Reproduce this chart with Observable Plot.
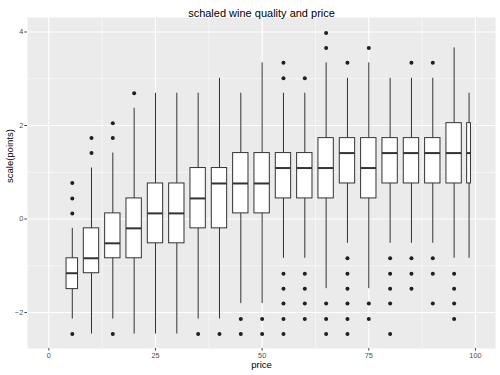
<!DOCTYPE html>
<html>
<head>
<meta charset="utf-8">
<script src="https://cdn.jsdelivr.net/npm/d3@7"></script>
<script src="https://cdn.jsdelivr.net/npm/@observablehq/plot@0.6"></script>
<style>
  html, body { margin: 0; padding: 0; background: #ffffff; }
</style>
</head>
<body>
<div id="chart"></div>
<script>
// ---- Data (y values are scale(points)) ----
const title = "schaled wine quality and price";
const xLabel = "price";
const yLabel = "scale(points)";

// price groups (cut_width 5): lowest and highest price present in each group
const priceMin = [4, 8, 13, 18, 23, 28, 33, 38, 43, 48, 53, 58, 63, 68, 73, 78, 83, 88, 93, 98];
const priceMax = [7, 12, 17, 22, 27, 32, 37, 42, 47, 52, 57, 62, 67, 72, 77, 82, 87, 92, 97, 99];

const whiskerLow  = [-2.14, -2.46, -2.14, -2.46, -2.46, -2.46, -2.14, -2.14, -1.81, -1.81, -0.84, -0.84, -1.49, -0.52, -1.49, -0.52, -0.52, -0.52, -0.84, -0.84];
const quartile1   = [-1.50, -1.16, -0.84, -0.84, -0.52, -0.52, -0.20, -0.20, 0.12, 0.12, 0.44, 0.44, 0.44, 0.76, 0.44, 0.76, 0.76, 0.76, 0.76, 0.76];
const medians     = [-1.16, -0.84, -0.52, -0.20, 0.12, 0.12, 0.44, 0.76, 0.76, 0.76, 1.09, 1.09, 1.09, 1.41, 1.09, 1.41, 1.41, 1.41, 1.41, 1.41];
const quartile3   = [-0.84, -0.20, 0.12, 0.44, 0.76, 0.76, 1.09, 1.09, 1.41, 1.41, 1.41, 1.41, 1.73, 1.73, 1.73, 1.73, 1.73, 1.73, 2.05, 2.05];
const whiskerHigh = [-0.20, 1.09, 1.41, 2.37, 2.69, 2.69, 2.69, 3.01, 2.69, 3.34, 2.69, 2.69, 3.34, 3.01, 3.34, 3.01, 3.01, 3.01, 3.66, 2.69];

// outliers: group index and value
const outlierGroup = [
  0, 0, 0, 0,
  1, 1,
  2, 2, 2,
  3,
  6, 7,
  8, 8,
  9, 9,
  10, 10, 10, 10, 10, 10, 10,
  11, 11, 11, 11, 11,
  12, 12, 12, 12, 12,
  13, 13, 13, 13, 13, 13, 13,
  14, 14, 14,
  15, 15, 15, 15, 15,
  16, 16, 16, 16,
  17, 17, 17, 17,
  18, 18, 18, 18
];
const outlierValue = [
  0.77, 0.44, 0.12, -2.46,
  1.41, 1.73,
  1.73, 2.05, -2.46,
  2.69,
  -2.46, -2.46,
  -2.14, -2.46,
  -2.14, -2.46,
  3.01, 3.34, -1.17, -1.49, -1.81, -2.14, -2.46,
  3.01, -1.17, -1.49, -1.81, -2.14,
  3.66, 3.98, -1.81, -2.14, -2.46,
  3.34, -0.84, -1.17, -1.49, -1.81, -2.14, -2.46,
  3.66, -1.81, -2.14,
  -0.84, -1.17, -1.49, -1.81, -2.46,
  3.34, -0.84, -1.17, -1.49,
  3.34, -0.84, -1.17, -1.81,
  -1.17, -1.49, -1.81, -2.14
];

const xTicks = [0, 25, 50, 75, 100];
const xMinor = [12.5, 37.5, 62.5, 87.5];
const yTicks = [-2, 0, 2, 4];
const yMinor = [-1, 1, 3];

// ---- Build tables (ggplot-style: center = mid of range, width = 0.9 * range) ----
const boxes = priceMin.map((mn, i) => {
  const mx = priceMax[i];
  const c = (mn + mx) / 2;
  const w = 0.9 * (mx - mn);
  return {
    x: c, x1: c - w / 2, x2: c + w / 2,
    lo: whiskerLow[i], q1: quartile1[i], med: medians[i], q3: quartile3[i], hi: whiskerHigh[i]
  };
});
const outliers = outlierGroup.map((g, i) => ({ x: boxes[g].x, y: outlierValue[i] }));

const ink = "#333333";
const tickText = "#4D4D4D";

const chart = Plot.plot({
  width: 500,
  height: 375,
  marginLeft: 27,
  marginRight: 5,
  marginTop: 17,
  marginBottom: 27,
  style: { fontFamily: "'Liberation Sans', Arial, Helvetica, sans-serif", background: "#ffffff", overflow: "visible" },
  x: { domain: [-5.0, 104.7] },
  y: { domain: [-2.77, 4.31] },
  marks: [
    Plot.frame({ fill: "#EBEBEB", stroke: null }),
    Plot.ruleX(xMinor, { stroke: "#ffffff", strokeWidth: 0.55 }),
    Plot.ruleY(yMinor, { stroke: "#ffffff", strokeWidth: 0.55 }),
    Plot.ruleX(xTicks, { stroke: "#ffffff", strokeWidth: 1.1 }),
    Plot.ruleY(yTicks, { stroke: "#ffffff", strokeWidth: 1.1 }),
    Plot.ruleX(boxes, { x: "x", y1: "lo", y2: "hi", stroke: ink, strokeWidth: 1 }),
    Plot.rect(boxes, { x1: "x1", x2: "x2", y1: "q1", y2: "q3", fill: "#ffffff", stroke: ink, strokeWidth: 1 }),
    Plot.ruleY(boxes, { x1: "x1", x2: "x2", y: "med", stroke: ink, strokeWidth: 2 }),
    Plot.dot(outliers, { x: "x", y: "y", r: 2, fill: "#1f1f1f", stroke: null }),
    Plot.axisX(xTicks, { tickSize: 2.7, tickPadding: 1.6, fontSize: 7.3, color: tickText, label: null }),
    Plot.axisY(yTicks, { tickSize: 2.7, tickPadding: 1.6, fontSize: 7.3, color: tickText, label: null }),
    Plot.text([xLabel], { frameAnchor: "bottom", dy: 19, fontSize: 9.5, fill: "#000000" }),
    Plot.text([yLabel], { frameAnchor: "left", dx: -18, rotate: -90, fontSize: 9.5, fill: "#000000" }),
    Plot.text([title], { frameAnchor: "top", dy: -8.5, fontSize: 11, fill: "#000000" })
  ]
});

document.getElementById("chart").appendChild(chart);
</script>
</body>
</html>
